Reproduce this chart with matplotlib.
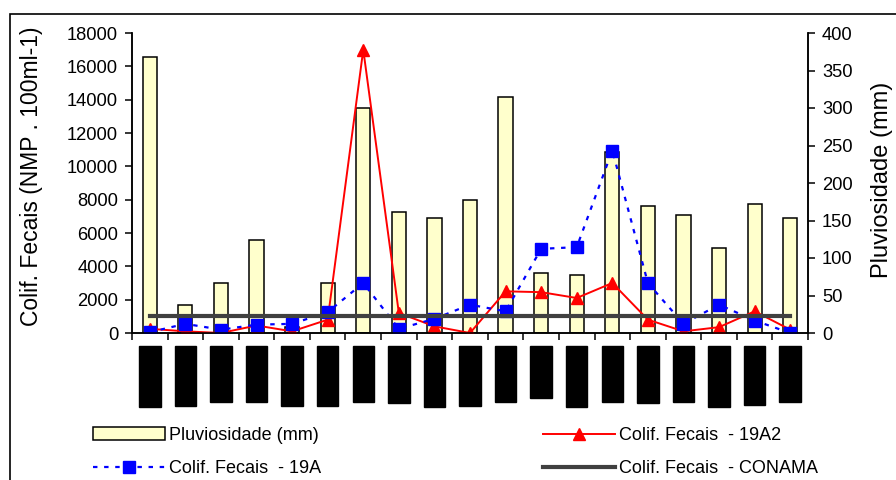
import matplotlib.pyplot as plt
import numpy as np
from matplotlib.patches import Rectangle

plt.rcParams['font.family'] = ['Liberation Sans', 'DejaVu Sans']

# Campanhas de amostragem
datas = ['mar/1999', 'mai/1999', 'jun/1999', 'set/1999', 'nov/1999', 'dez/1999',
         'jan/2000', 'fev/2000', 'mar/2000', 'mai/2000', 'jun/2000', 'jul/2000',
         'ago/2000', 'set/2000', 'out/2000', 'jan/2001', 'mar/2001', 'mai/2001',
         'jun/2001']

# Pluviosidade (mm) - eixo da direita
pluviosidade = [368, 38, 67, 124, 8, 67, 300, 161, 153, 178, 315, 80, 78, 241,
                169, 158, 113, 172, 153]

# Coliformes fecais (NMP/100ml) - eixo da esquerda
colif_19a2 = [250, 100, 0, 450, 100, 800, 17000, 1200, 400, 0, 2500, 2450,
              2100, 3000, 800, 100, 350, 1300, 200]
colif_19a = [50, 550, 200, 500, 550, 1250, 3000, 250, 850, 1700, 1300, 5050,
             5150, 10950, 3000, 550, 1700, 750, 0]
conama = 1000

x = np.arange(len(datas))

fig = plt.figure(figsize=(8.96, 4.8), dpi=100)
ax = fig.add_axes([132 / 896, 1 - 333 / 480, 676 / 896, 300 / 480])
ax2 = ax.twinx()

# barras de chuva no eixo secundario, atras das linhas
ax2.bar(x, pluviosidade, width=0.4, color='#FFFFCC', edgecolor='black',
        linewidth=1.1, label='Pluviosidade (mm)')
ax.set_zorder(ax2.get_zorder() + 1)
ax.patch.set_visible(False)

l19a2, = ax.plot(x, colif_19a2, color='red', lw=1.4, marker='^', ms=9,
                 label='Colif. Fecais  - 19A2')
l19a, = ax.plot(x, colif_19a, color='blue', lw=1.6, ls=(0, (2, 3)), marker='s',
                ms=9, label='Colif. Fecais  - 19A')
lcon, = ax.plot([x[0], x[-1]], [conama, conama], color='#404040', lw=3,
                label='Colif. Fecais  - CONAMA')

ax.set_xlim(-0.5, len(datas) - 0.5)
ax.set_ylim(0, 18000)
ax2.set_ylim(0, 400)
ax.set_yticks(np.arange(0, 18001, 2000))
ax2.set_yticks(np.arange(0, 401, 50))

for a in (ax, ax2):
    a.spines['top'].set_visible(False)
    for s in ('left', 'right', 'bottom'):
        a.spines[s].set_linewidth(1.1)
    a.tick_params(axis='y', labelsize=13.2, length=5, width=1.1, pad=5)

# marcas entre categorias, rotulos no centro
ax.set_xticks(x)
ax.set_xticks(np.arange(-0.5, len(datas), 1), minor=True)
ax.set_xticklabels(datas, rotation=90, fontsize=8.7, color='black', va='top')
ax.tick_params(axis='x', which='major', length=0, pad=12.8)
ax.tick_params(axis='x', which='minor', length=5, width=1.1)
for lab in ax.get_xticklabels():
    lab.set_bbox(dict(facecolor='black', edgecolor='black', pad=3.4))

ax.set_ylabel('Colif. Fecais (NMP . 100ml-1)', fontsize=16.5, va='center')
ax.yaxis.set_label_coords(-0.149, 0.522)
ax2.set_ylabel('Pluviosidade (mm)', fontsize=17, va='center')
ax2.yaxis.set_label_coords(1.109, 0.51)

bar_handle = ax2.containers[0]
fig.legend([bar_handle, l19a, l19a2, lcon],
           ['Pluviosidade (mm)', 'Colif. Fecais  - 19A',
            'Colif. Fecais  - 19A2', 'Colif. Fecais  - CONAMA'],
           ncol=2, loc='upper left', bbox_to_anchor=(93 / 896, 1 - 427 / 480),
           frameon=False, fontsize=13, handlelength=4, handletextpad=0.2,
           columnspacing=12.3, labelspacing=0.9, borderpad=0, borderaxespad=0)

# moldura externa
fig.patches.append(Rectangle((10 / 896, -0.2), 1.2, 0.2 + 1 - 14 / 480,
                             transform=fig.transFigure, fill=False,
                             edgecolor='black', lw=1.2))

fig.savefig('out.png', dpi=100)
